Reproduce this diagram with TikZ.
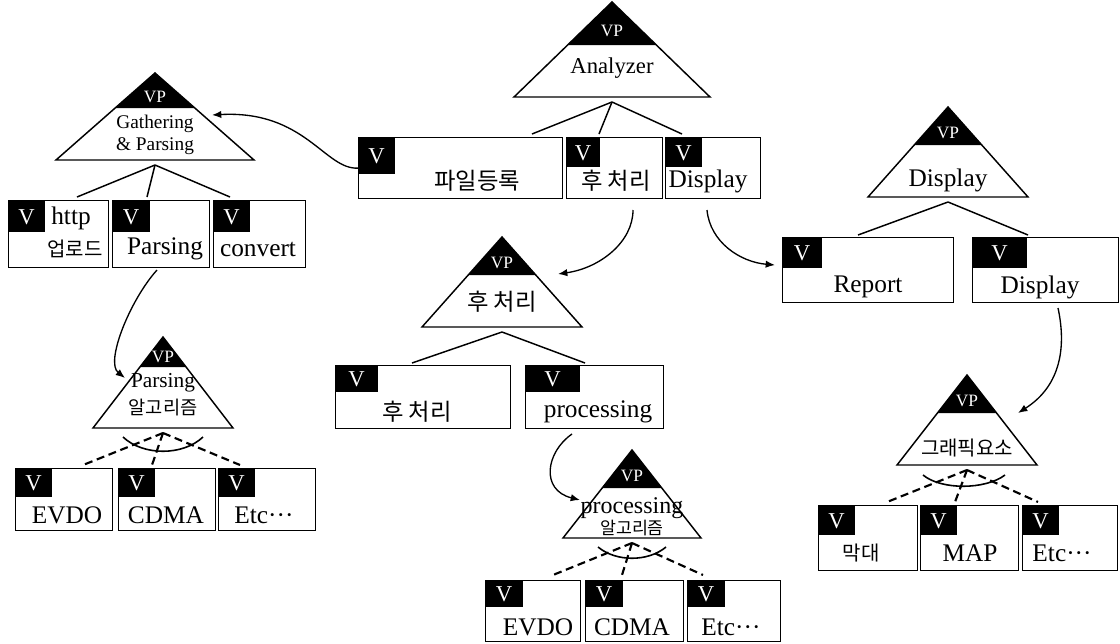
\documentclass[tikz,border=0pt]{standalone}
\usepackage{fontspec}
\setmainfont{Liberation Serif}
\newfontfamily\krfont{Noto Sans CJK KR}
\usetikzlibrary{arrows.meta}
\tikzset{
  fbox/.style={draw, line width=0.9pt, inner sep=0pt, fill=white},
  tri/.style={draw, line width=1.1pt, line join=miter},
  vl/.style={text=white, font=\fontsize{17}{17}\selectfont, inner sep=0pt},
  vp/.style={text=white, font=\fontsize{13}{13}\selectfont, inner sep=0pt},
  lbl/.style={font=\fontsize{19}{20}\selectfont, inner sep=0pt},
  mlbl/.style={font=\fontsize{17}{18}\selectfont, inner sep=0pt},
  slbl/.style={font=\fontsize{14.5}{16}\selectfont, inner sep=0pt, align=center},
  kr/.style={font=\krfont\fontsize{17.5}{18}\selectfont, inner sep=0pt},
  skr/.style={font=\krfont\fontsize{15}{16}\selectfont, inner sep=0pt},
  conn/.style={line width=1.1pt},
  alt/.style={line width=1.6pt, dash pattern=on 6pt off 3.5pt},
  arc/.style={line width=1.2pt},
  arr/.style={line width=1pt, -{Latex[length=7pt,width=5.5pt]}}
}
\newcommand{\vtri}[6]{%
  \coordinate (#1-apex) at (#2,#3);
  \coordinate (#1-bl) at (#2-#4,#3+#5);
  \coordinate (#1-br) at (#2+#4,#3+#5);
  \fill (#2,#3) -- (#2-#4*#6/#5,#3+#6) -- (#2+#4*#6/#5,#3+#6) -- cycle;
  \draw[tri] (#1-apex) -- (#1-bl) -- (#1-br) -- cycle;
  \node[vp] (#1-vp) at (#2,#3+#6*0.68) {VP};
  \coordinate (#1-fork) at (#2,#3+#5+5);
}
\newcommand{\fbx}[7]{%
  \node[fbox, minimum width={(#4-#2)*0.75pt}, minimum height={(#5-#3)*0.75pt}, anchor=north west] (#1) at (#2,#3) {};
  \fill (#2,#3) rectangle (#2+#6,#3+#7);
  \node[vl] (#1-v) at (#2+#6/2,#3+#7/2+1) {V};
}
\begin{document}
\begin{tikzpicture}[x=0.75pt,y=-0.75pt]
\useasboundingbox (0,0) rectangle (1120,643);

% ---------- Analyzer ----------
\vtri{an}{612}{2}{98}{95}{43}
\node[mlbl] (an-t) at (612,68) {Analyzer};
\fbx{file}{358}{137}{562}{198}{37}{37}
\fbx{post}{566}{137}{662}{198}{34}{30}
\fbx{disp}{665}{137}{760}{198}{37}{30}
\node[kr] (file-t) at (477,181) {파일등록};
\node[kr] (post-t) at (616,181) {후 처리};
\node[lbl] (disp-t) at (708,181) {Display};
\coordinate (file-top) at (532,134);
\coordinate (post-top) at (599,134);
\coordinate (disp-top) at (682,134);
\draw[conn] (an-fork) -- (file-top);
\draw[conn] (an-fork) -- (post-top);
\draw[conn] (an-fork) -- (disp-top);

% ---------- Gathering & Parsing ----------
\vtri{ga}{155}{73}{99}{87}{35}
\node[slbl] (ga-t1) at (155,124) {Gathering};
\node[slbl] (ga-t2) at (155,146) {\& Parsing};
\fbx{http}{8}{200}{108}{267}{37}{32}
\fbx{pars}{112}{200}{209}{267}{38}{32}
\fbx{conv}{213}{200}{305}{267}{37}{32}
\node[lbl] (http-t) at (71,218) {http};
\node[skr] (http-k) at (75,249) {업로드};
\node[lbl] (pars-t) at (165,249) {Parsing};
\node[lbl] (conv-t) at (258,249) {convert};
\coordinate (http-top) at (77,197);
\coordinate (pars-top) at (147,197);
\coordinate (conv-top) at (230,197);
\draw[conn] (ga-fork) -- (http-top);
\draw[conn] (ga-fork) -- (pars-top);
\draw[conn] (ga-fork) -- (conv-top);

% ---------- Parsing algorithm ----------
\vtri{pa}{163}{337}{70}{91}{30}
\node[font=\fontsize{16}{17}\selectfont, inner sep=0pt] (pa-t1) at (163,383) {Parsing};
\node[font=\krfont\fontsize{14}{15}\selectfont, inner sep=0pt] (pa-t2) at (163,408) {알고리즘};
\fbx{pa1}{15}{468}{112}{530}{37}{29}
\fbx{pa2}{118}{468}{215}{530}{37}{29}
\fbx{pa3}{218}{468}{315}{530}{37}{29}
\node[lbl] (pa1-t) at (67,515) {EVDO};
\node[lbl] (pa2-t) at (166,515) {CDMA};
\node[lbl] (pa3-t) at (264,515) {Etc···};
\coordinate (pa1-top) at (83,465);
\coordinate (pa2-top) at (152,465);
\coordinate (pa3-top) at (240,465);
\draw[alt] (pa-fork) -- (pa1-top);
\draw[alt] (pa-fork) -- (pa2-top);
\draw[alt] (pa-fork) -- (pa3-top);
\draw[arc] (123,437) .. controls (143,456) and (183,456) .. (203,437);

% ---------- 후 처리 ----------
\vtri{po}{502}{237}{80}{90}{38}
\node[kr] (po-t) at (502,302) {후 처리};
\fbx{post2}{335}{365}{510}{428}{43}{27}
\fbx{proc}{525}{365}{663}{428}{55}{27}
\node[kr] (post2-t) at (417,412) {후 처리};
\node[lbl] (proc-t) at (598,412) {processing};
\coordinate (post2-top) at (412,363);
\coordinate (proc-top) at (585,363);
\draw[conn] (po-fork) -- (post2-top);
\draw[conn] (po-fork) -- (proc-top);

% ---------- processing algorithm ----------
\vtri{pr}{632}{450}{69}{88}{38}
\node[font=\fontsize{18}{18}\selectfont, inner sep=0pt] (pr-t1) at (632,508) {processing};
\node[font=\krfont\fontsize{13}{14}\selectfont, inner sep=0pt] (pr-t2) at (632,528) {알고리즘};
\fbx{pr1}{485}{580}{580}{641}{38}{27}
\fbx{pr2}{585}{580}{683}{641}{38}{27}
\fbx{pr3}{687}{580}{780}{641}{38}{27}
\node[lbl] (pr1-t) at (538,627) {EVDO};
\node[lbl] (pr2-t) at (632,627) {CDMA};
\node[lbl] (pr3-t) at (731,627) {Etc···};
\coordinate (pr1-top) at (553,575);
\coordinate (pr2-top) at (622,575);
\coordinate (pr3-top) at (703,575);
\draw[alt] (pr-fork) -- (pr1-top);
\draw[alt] (pr-fork) -- (pr2-top);
\draw[alt] (pr-fork) -- (pr3-top);
\draw[arc] (598,547) .. controls (616,562) and (648,562) .. (666,547);

% ---------- Display ----------
\vtri{di}{948}{107}{80}{90}{38}
\node[lbl] (di-t) at (948,180) {Display};
\fbx{rep}{782}{237}{953}{302}{40}{31}
\fbx{disp2}{972}{237}{1118}{302}{55}{31}
\node[lbl] (rep-t) at (868,287) {Report};
\node[lbl] (disp2-t) at (1040,287) {Display};
\coordinate (rep-top) at (858,235);
\coordinate (disp2-top) at (1028,235);
\draw[conn] (di-fork) -- (rep-top);
\draw[conn] (di-fork) -- (disp2-top);

% ---------- 그래픽요소 ----------
\vtri{gr}{967}{375}{70}{90}{38}
\node[font=\krfont\fontsize{15}{16}\selectfont, inner sep=0pt] (gr-t) at (967,448) {그래픽요소};
\fbx{bar}{818}{505}{917}{570}{37}{30}
\fbx{map}{920}{505}{1018}{570}{37}{30}
\fbx{getc}{1022}{505}{1117}{570}{37}{30}
\node[skr] (bar-t) at (861,553) {막대};
\node[lbl] (map-t) at (970,553) {MAP};
\node[lbl] (getc-t) at (1062,553) {Etc···};
\coordinate (bar-top) at (887,502);
\coordinate (map-top) at (955,502);
\coordinate (getc-top) at (1038,502);
\draw[alt] (gr-fork) -- (bar-top);
\draw[alt] (gr-fork) -- (map-top);
\draw[alt] (gr-fork) -- (getc-top);
\draw[arc] (923,475) .. controls (941,490) and (985,490) .. (1005,475);

% ---------- refinement arrows ----------
\coordinate (ga-in) at (212,115);
\coordinate (post-out) at (633,210);
\coordinate (po-in) at (558,274);
\coordinate (disp-out) at (707,210);
\coordinate (rep-in) at (775,265);
\coordinate (pars-out) at (157,270);
\coordinate (pa-in) at (125,378);
\coordinate (proc-out) at (572,434);
\coordinate (pr-in) at (580,500);
\coordinate (disp2-out) at (1058,308);
\coordinate (gr-in) at (1018,413);
\draw[arr] (file.west) .. controls (325,170) and (305,110) .. (ga-in);
\draw[arr] (post-out) .. controls (633,242) and (600,268) .. (po-in);
\draw[arr] (disp-out) .. controls (710,242) and (740,262) .. (rep-in);
\draw[arr] (pars-out) .. controls (130,300) and (105,362) .. (pa-in);
\draw[arr] (proc-out) .. controls (546,452) and (540,490) .. (pr-in);
\draw[arr] (disp2-out) .. controls (1066,345) and (1062,385) .. (gr-in);
\end{tikzpicture}
\end{document}
